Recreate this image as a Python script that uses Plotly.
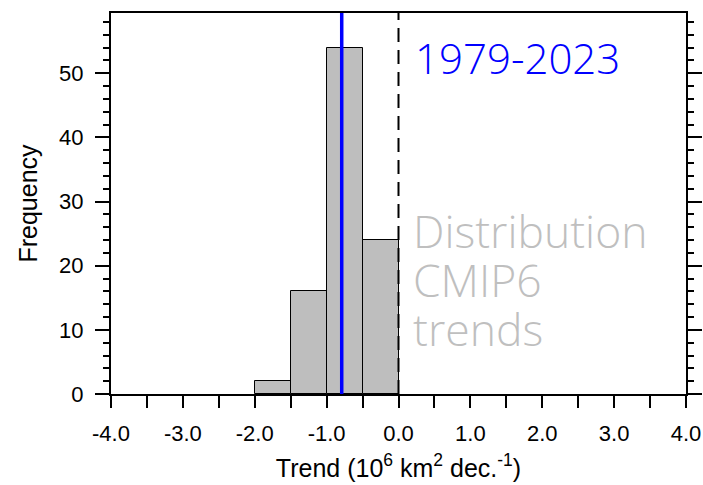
import plotly.graph_objects as go

# Histogram of CMIP6 trends (bin edges and counts)
bin_left = [-2.0, -1.5, -1.0, -0.5]
bin_width = 0.5
counts = [2, 16, 54, 24]

obs_trend = -0.79      # observed 1979-2023 trend
zero_line = 0.0

x_ticks = [-4.0 + 0.5 * i for i in range(17)]
x_labels = [f"{v:.1f}" if abs(v - round(v)) < 1e-9 else "" for v in x_ticks]
y_ticks = [0, 10, 20, 30, 40, 50]

label_lines = ["Distribution", "CMIP6", "trends"]

centers = [b + bin_width / 2 for b in bin_left]

fig = go.Figure()
fig.add_trace(go.Bar(
    x=centers, y=counts, width=bin_width,
    marker=dict(color="#bebebe", line=dict(color="black", width=1)),
    hoverinfo="skip",
))

fig.add_shape(type="line", xref="x", yref="paper", x0=obs_trend, x1=obs_trend,
              y0=0, y1=1, line=dict(color="#0000ff", width=3.5))
fig.add_shape(type="line", xref="x", yref="paper", x0=zero_line, x1=zero_line,
              y0=0, y1=1, line=dict(color="black", width=2, dash="14px,8px"))

fig.add_annotation(text="1979-2023", xref="paper", yref="paper",
                   x=0.5245, y=0.962, xanchor="left", yanchor="top", showarrow=False,
                   font=dict(family="Open Sans", size=42, color="#0000ff", weight=300))
# stacked grey caption, one line per annotation with a compact box height
for i, line in enumerate(label_lines):
    fig.add_annotation(text=line, xref="paper", yref="paper",
                       x=0.5215, y=0.508 - 0.0158 - i * 0.128,
                       xanchor="left", yanchor="top", height=44, valign="middle",
                       showarrow=False,
                       font=dict(family="Open Sans", size=44.5, color="#bfbfbf", weight=300))

axis_font = dict(family="Liberation Sans, Arial", size=22, color="black")
title_font = dict(family="Liberation Sans, Arial", size=25, color="black")

fig.update_layout(
    width=703, height=485,
    margin=dict(l=111, r=17, t=13, b=91),
    paper_bgcolor="white", plot_bgcolor="white",
    showlegend=False,
    bargap=0,
    xaxis=dict(
        range=[-4, 4], tickvals=x_ticks, ticktext=x_labels, automargin=False,
        ticks="outside", ticklen=12, tickwidth=2, tickcolor="black",
        ticklabelstandoff=7,
        showline=True, linecolor="black", linewidth=2, mirror=True,
        showgrid=False, zeroline=False, tickfont=axis_font,
        title=dict(text="Trend (10<sup>6</sup> km<sup>2</sup> dec.<sup>-1</sup>)",
                   font=title_font, standoff=14),
    ),
    yaxis=dict(
        range=[0, 59.4], tickvals=y_ticks, automargin=False,
        ticks="outside", ticklen=14, tickwidth=2, tickcolor="black",
        ticklabelstandoff=7,
        minor=dict(dtick=2, ticks="outside", ticklen=6, tickwidth=1.5, tickcolor="black"),
        showline=True, linecolor="black", linewidth=2, mirror="ticks",
        showgrid=False, zeroline=False, tickfont=axis_font,
        title=dict(text="Frequency", font=title_font, standoff=14),
    ),
)

fig.write_html("out.html")
